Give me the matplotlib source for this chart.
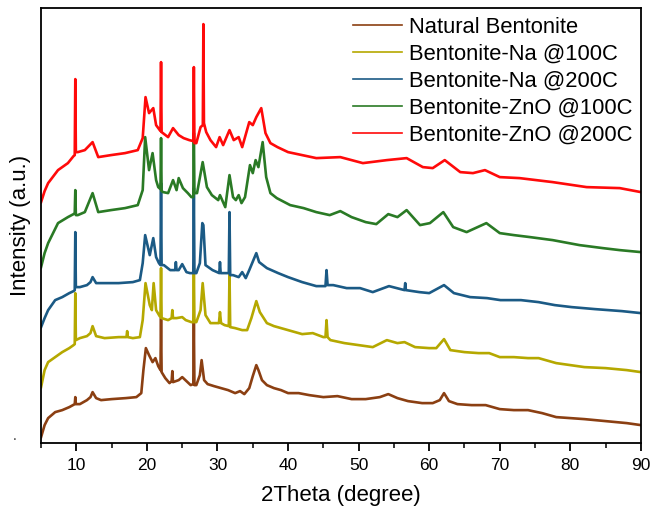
import matplotlib
matplotlib.use("Agg")
import matplotlib.pyplot as plt
from matplotlib.ticker import MultipleLocator

plt.rcParams['font.family'] = ['Liberation Sans', 'DejaVu Sans']

labels = ["Natural Bentonite", "Bentonite-Na @100C", "Bentonite-Na @200C",
          "Bentonite-ZnO @100C", "Bentonite-ZnO @200C"]
colors = ["#8B3F12", "#B5A800", "#1B5A85", "#2A7A25", "#FF0A0A"]

# Natural Bentonite
tt_nat = [5.0, 5.5, 6.0, 7.0, 8.0, 9.0, 9.77, 9.85, 9.93, 10.5, 11.5, 12.0, 12.3, 12.8, 13.5,
          15.0, 17.0, 18.5, 19.2, 19.5, 19.85, 20.3, 20.8, 21.2, 21.6, 21.92, 22.0, 22.08, 22.6,
          23.2, 23.5, 23.6, 23.7, 24.5, 25.0, 25.6, 26.2, 26.57, 26.65, 26.73, 27.0, 27.5, 27.75,
          28.1, 28.6, 29.5, 30.5, 31.5, 32.5, 33.2, 33.8, 34.5, 35.0, 35.5, 35.8, 36.3, 37.0, 38.0,
          39.0, 40.0, 41.5, 43.0, 45.0, 47.0, 49.0, 51.0, 53.0, 54.2, 55.5, 57.0, 59.0, 60.5, 61.5,
          62.1, 62.8, 64.0, 66.0, 68.0, 70.0, 72.0, 74.0, 76.0, 78.0, 80.0, 82.0, 85.0, 88.0, 90.0]
i_nat = [6, 18, 25, 31, 33, 36, 39, 46, 39, 39, 43, 46, 51, 45, 43,
         44, 45, 46, 50, 73, 95, 88, 81, 85, 77, 73, 125, 71, 65,
         60, 62, 72, 61, 63, 66, 62, 58, 59, 122, 58, 58, 68, 83,
         63, 59, 57, 55, 53, 50, 52, 49, 55, 67, 78, 73, 63, 58, 55,
         53, 50, 50, 48, 46, 47, 44, 44, 46, 49, 45, 42, 40, 40, 43,
         50, 42, 39, 38, 38, 34, 33, 33, 30, 26, 25, 24, 22, 20, 18]

# Bentonite-Na @100C
tt_na100 = [5.0, 5.5, 6.0, 7.0, 8.0, 9.0, 9.6, 9.77, 9.85, 9.93, 10.5, 11.5, 12.0, 12.3, 12.8,
            14.0, 16.0, 17.1, 17.2, 17.3, 18.0, 19.0, 19.4, 19.8, 20.4, 20.7, 20.95, 21.3, 21.8,
            21.92, 22.0, 22.08, 23.0, 23.5, 23.6, 23.7, 24.2, 25.0, 25.5, 26.3, 26.57, 26.65,
            26.73, 27.0, 27.6, 27.9, 28.3, 29.0, 30.2, 30.35, 30.5, 31.0, 31.6, 31.7, 31.8, 32.5,
            33.5, 34.2, 34.8, 35.5, 36.0, 37.0, 38.0, 40.0, 42.0, 43.5, 45.0, 45.3, 45.45, 45.6,
            46.0, 48.0, 50.0, 52.0, 54.0, 55.5, 56.5, 58.0, 60.0, 61.0, 62.1, 63.0, 65.0, 67.0,
            68.5, 70.0, 72.0, 74.0, 75.5, 78.0, 80.0, 82.0, 85.0, 88.0, 90.0]
i_na100 = [56, 73, 81, 86, 91, 95, 98, 99, 150, 103, 105, 107, 110, 117, 107,
           105, 106, 106, 112, 106, 105, 106, 123, 160, 138, 133, 160, 133, 127,
           126, 175, 125, 123, 125, 133, 125, 125, 126, 123, 121, 121, 175,
           121, 121, 133, 160, 128, 120, 120, 131, 120, 118, 117, 170, 116, 115,
           113, 113, 125, 142, 131, 120, 117, 113, 109, 110, 106, 106, 123, 106,
           103, 100, 98, 96, 103, 100, 101, 96, 95, 95, 104, 93, 91, 90,
           90, 86, 86, 85, 85, 80, 78, 76, 75, 73, 71]

# Bentonite-Na @200C
tt_na200 = [5.0, 5.5, 6.0, 7.0, 8.0, 9.0, 9.6, 9.77, 9.85, 9.93, 10.5, 11.5, 12.0, 12.3, 12.8,
            14.0, 16.0, 18.0, 19.0, 19.4, 19.75, 20.4, 20.9, 21.3, 21.7, 21.92, 22.0, 22.08, 22.4,
            23.3, 24.0, 24.1, 24.2, 24.5, 25.0, 25.6, 26.1, 26.57, 26.65, 26.73, 27.0, 27.5, 27.85,
            28.0, 28.3, 29.3, 30.25, 30.35, 30.45, 31.0, 31.6, 31.7, 31.8, 32.2, 33.0, 33.5, 34.0,
            34.5, 35.5, 35.9, 37.0, 38.6, 40.0, 42.0, 44.0, 45.3, 45.45, 45.6, 46.4, 48.3, 50.2,
            52.0, 54.3, 56.5, 56.6, 56.7, 58.6, 60.0, 62.1, 63.5, 65.8, 68.2, 70.1, 73.0, 75.5,
            77.8, 80.2, 83.5, 87.3, 90.0]
i_na200 = [116, 125, 133, 143, 146, 150, 152, 153, 211, 156, 156, 158, 161, 166, 160,
           160, 160, 161, 163, 180, 208, 188, 205, 186, 180, 178, 260, 178, 178,
           173, 173, 181, 173, 173, 179, 171, 170, 170, 255, 170, 170, 180, 220,
           218, 178, 173, 170, 181, 170, 170, 170, 231, 168, 168, 166, 171, 165,
           173, 190, 181, 175, 170, 166, 161, 157, 157, 173, 158, 158, 155, 155,
           151, 157, 153, 160, 153, 151, 150, 158, 150, 146, 145, 143, 143, 141,
           138, 136, 134, 132, 130]

# Bentonite-ZnO @100C
tt_zn100 = [5.0, 5.5, 6.0, 7.4, 8.8, 9.6, 9.77, 9.85, 9.93, 10.2, 11.2, 12.3, 13.1, 14.9, 16.9,
            18.7, 19.4, 19.75, 20.3, 20.8, 21.3, 21.6, 21.92, 22.0, 22.08, 22.3, 23.0, 23.7, 24.2,
            24.5, 25.1, 25.8, 26.3, 26.57, 26.65, 26.73, 27.1, 27.9, 28.5, 29.2, 30.1, 30.35, 31.1,
            31.7, 32.2, 32.6, 33.0, 33.4, 33.9, 34.6, 35.0, 35.4, 35.8, 36.4, 36.9, 37.5, 38.4,
            40.3, 42.2, 44.0, 45.9, 47.4, 49.0, 51.0, 52.5, 54.2, 55.5, 56.8, 58.7, 60.1, 62.0,
            63.4, 65.3, 68.1, 70.0, 72.0, 74.3, 77.5, 81.3, 84.6, 87.0, 90.0]
i_zn100 = [176, 190, 200, 220, 226, 229, 230, 253, 228, 228, 231, 250, 231, 233, 235,
           238, 253, 306, 273, 290, 263, 256, 254, 305, 252, 251, 250, 263, 253,
           265, 255, 250, 246, 246, 310, 250, 250, 281, 256, 248, 243, 248, 236,
           268, 246, 243, 248, 240, 246, 278, 270, 283, 276, 301, 266, 250, 245,
           238, 235, 231, 228, 232, 226, 221, 219, 229, 226, 233, 218, 220, 231,
           216, 211, 220, 210, 208, 206, 203, 198, 195, 193, 191]

# Bentonite-ZnO @200C
tt_zn200 = [5.0, 5.5, 6.0, 7.4, 8.8, 9.6, 9.77, 9.85, 9.93, 10.2, 11.2, 12.3, 13.1, 14.9, 16.9,
            18.7, 19.4, 19.8, 20.3, 20.9, 21.3, 21.92, 22.0, 22.08, 23.0, 23.7, 24.5, 25.2, 26.0,
            26.57, 26.65, 26.73, 27.0, 27.6, 27.92, 28.0, 28.08, 28.4, 29.0, 29.8, 30.3, 30.8,
            31.7, 32.3, 33.0, 33.5, 34.5, 35.0, 35.5, 36.2, 36.8, 37.5, 38.5, 40.0, 42.0, 44.0,
            47.4, 50.6, 54.0, 56.8, 59.1, 60.5, 62.2, 64.4, 66.2, 67.9, 70.0, 72.8, 77.5, 82.3,
            87.0, 90.0]
i_zn200 = [241, 252, 260, 273, 280, 287, 288, 364, 291, 291, 293, 301, 286, 288, 290,
           293, 305, 346, 330, 335, 318, 312, 381, 311, 306, 315, 308, 305, 303,
           302, 376, 300, 300, 316, 318, 419, 320, 311, 303, 296, 306, 298,
           313, 303, 306, 296, 321, 318, 326, 335, 310, 300, 296, 291, 288, 285,
           286, 280, 283, 285, 276, 275, 283, 271, 270, 273, 266, 265, 261, 256,
           255, 251]

series_x = [tt_nat, tt_na100, tt_na200, tt_zn100, tt_zn200]
series_y = [i_nat, i_na100, i_na200, i_zn100, i_zn200]

fig = plt.figure(figsize=(6.52, 5.07), dpi=100)
ax = fig.add_axes([0.063, 0.126, 0.920, 0.858])

for xs, ys, c, lab in zip(series_x, series_y, colors, labels):
    ax.plot(xs, ys, color=c, lw=1.9, label=lab)

ax.set_xlim(5, 90)
ax.set_ylim(0, 435)
ax.xaxis.set_major_locator(MultipleLocator(10))
ax.xaxis.set_minor_locator(MultipleLocator(5))
ax.tick_params(axis='x', which='major', length=6, width=1.3, direction='out', labelsize=12.5, pad=5)
ax.tick_params(axis='x', which='minor', length=3.5, width=1.1, direction='out')
ax.set_yticks([])
for s in ax.spines.values():
    s.set_linewidth(1.3)

ax.set_xlabel("2Theta (degree)", fontsize=16, labelpad=8)
ax.set_ylabel("Intensity (a.u.)", fontsize=16, labelpad=7)

leg = ax.legend(loc='upper right', frameon=False, fontsize=15.8, handlelength=2.25,
                handletextpad=0.3, labelspacing=0.27, borderaxespad=0.0,
                bbox_to_anchor=(1.0, 1.0))
for h in leg.get_lines():
    h.set_linewidth(1.2)

fig.text(0.019, 0.132, ".", fontsize=10, color="#333333")

fig.savefig("out.png", dpi=100)
